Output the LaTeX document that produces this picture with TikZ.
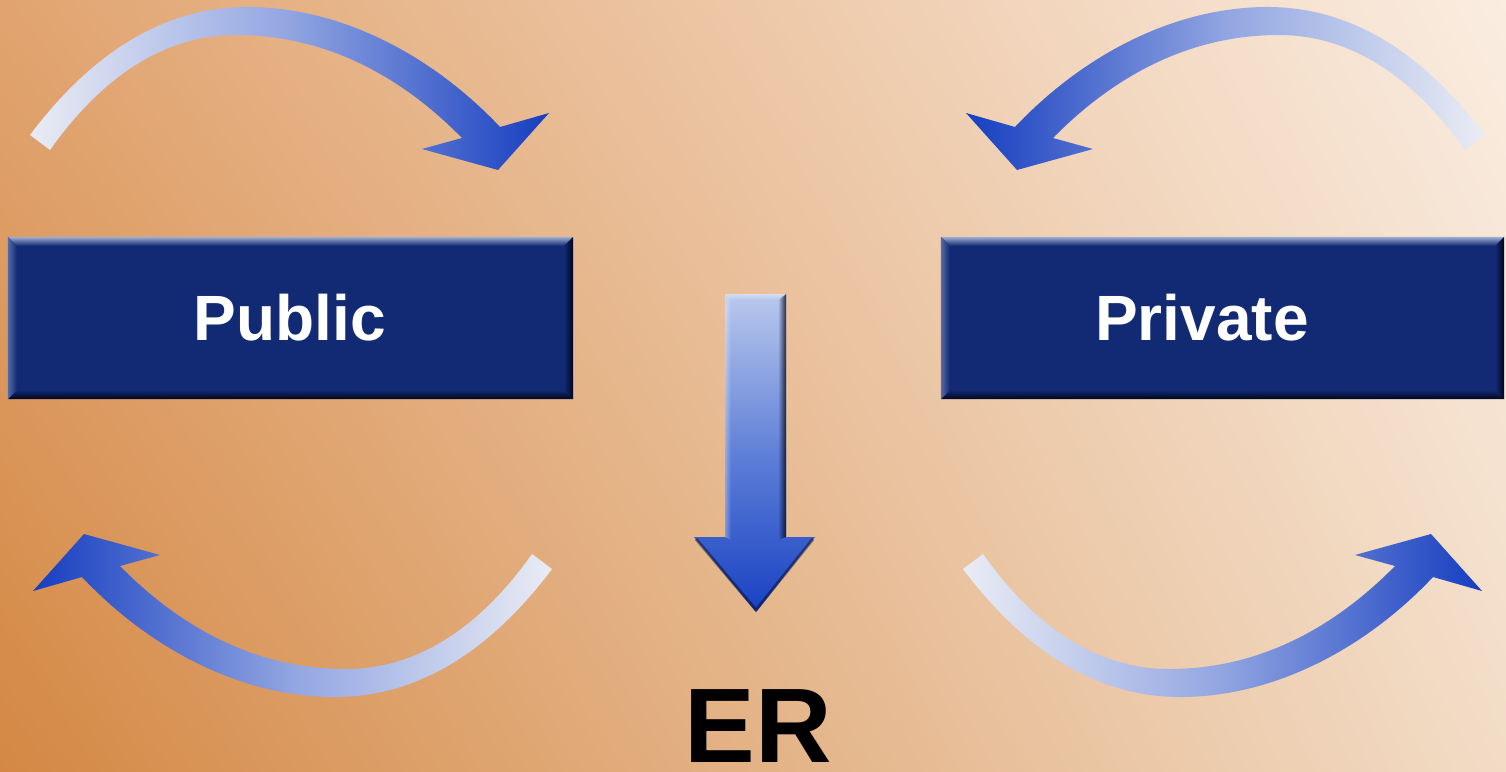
\documentclass[tikz,border=0pt]{standalone}
\usepackage{fontspec}
\setmainfont{Liberation Sans}
\usetikzlibrary{calc,fadings,shadings}
\definecolor{bgUL}{RGB}{225,164,112}
\definecolor{bgUR}{RGB}{250,237,225}
\definecolor{bgLL}{RGB}{212,136,68}
\definecolor{bgLR}{RGB}{242,220,198}
\definecolor{boxblue}{RGB}{18,42,115}
\definecolor{bevtop}{RGB}{160,175,210}
\definecolor{bevleft}{RGB}{85,108,168}
\definecolor{bevdark}{RGB}{0,4,25}
\definecolor{tailc}{RGB}{234,236,244}
\definecolor{midc}{RGB}{145,165,225}
\definecolor{headc}{RGB}{22,62,192}
\definecolor{datop}{RGB}{185,200,236}
\definecolor{damid}{RGB}{95,128,215}
\definecolor{dabot}{RGB}{25,65,195}
\newcommand{\bevelbox}[1]{%
  \shade[top color=bevtop, bottom color=boxblue] (#1.north west) -- (#1.north east) -- ($(#1.north east)+(-9,9)$) -- ($(#1.north west)+(9,9)$) -- cycle;
  \shade[bottom color=bevdark, top color=boxblue] (#1.south west) -- ($(#1.south west)+(9,-9)$) -- ($(#1.south east)+(-9,-9)$) -- (#1.south east) -- cycle;
  \shade[left color=bevleft, right color=boxblue] (#1.north west) -- ($(#1.north west)+(9,9)$) -- ($(#1.south west)+(9,-9)$) -- (#1.south west) -- cycle;
  \shade[right color=bevdark, left color=boxblue] (#1.north east) -- (#1.south east) -- ($(#1.south east)+(-9,-9)$) -- ($(#1.north east)+(-9,9)$) -- cycle;
}
\begin{document}
\begin{tikzpicture}[x=1pt,y=-1pt,
  navybox/.style={rectangle, fill=boxblue, minimum height=162pt, inner sep=0pt},
  boxlabel/.style={anchor=base, text=white, inner sep=0pt, font=\fontsize{64}{64}\selectfont\bfseries},
  bigtext/.style={anchor=base, text=black, inner sep=0pt, font=\fontsize{106}{106}\selectfont\bfseries},
  tailhead/.style={left color=tailc, right color=headc, middle color=midc},
  headtail/.style={left color=headc, right color=tailc, middle color=midc}]
\useasboundingbox (0,0) rectangle (1506,771);
\shade[upper left=bgUL, upper right=bgUR, lower left=bgLL, lower right=bgLR] (0,0) rectangle (1506,771);

% boxes
\node[navybox, minimum width=565pt] (pubbox) at (290.5,318) {};
\bevelbox{pubbox}
\node[boxlabel] (pub) at (290,340) {Public};
\node[navybox, minimum width=563pt] (privbox) at (1222.5,318) {};
\bevelbox{privbox}
\node[boxlabel] (priv) at (1202,340) {Private};

% curved arrows
\shade[tailhead] (30,135) .. controls (88,58) and (160,6) .. (250,7)
  .. controls (345,8) and (435,58) .. (500,127) -- (549,113) -- (498,170) -- (422,149) -- (462,138)
  .. controls (405,80) and (330,35) .. (236,35) .. controls (160,35) and (98,82) .. (50,150) -- cycle;
\shade[headtail] (1485,135) .. controls (1427,58) and (1355,6) .. (1265,7)
  .. controls (1170,8) and (1080,58) .. (1015,127) -- (966,113) -- (1017,170) -- (1093,149) -- (1053,138)
  .. controls (1110,80) and (1185,35) .. (1279,35) .. controls (1355,35) and (1417,82) .. (1465,150) -- cycle;
\shade[headtail] (552,569) .. controls (494,646) and (422,698) .. (332,697)
  .. controls (237,696) and (147,646) .. (82,577) -- (33,591) -- (84,534) -- (160,555) -- (120,566)
  .. controls (177,624) and (252,669) .. (346,669) .. controls (422,669) and (484,622) .. (532,554) -- cycle;
\shade[tailhead] (963,569) .. controls (1021,646) and (1093,698) .. (1183,697)
  .. controls (1278,696) and (1368,646) .. (1433,577) -- (1482,591) -- (1431,534) -- (1355,555) -- (1395,566)
  .. controls (1338,624) and (1263,669) .. (1169,669) .. controls (1093,669) and (1031,622) .. (983,554) -- cycle;

% down arrow
\shade[top color=datop, bottom color=dabot, middle color=damid]
  (725,294) -- (786,294) -- (786,537) -- (815,537) -- (756,612) -- (694,537) -- (725,537) -- cycle;
\fill[bevdark, path fading=west, fill opacity=0.8] (778,300) -- (786,294) -- (786,537) -- (778,540) -- cycle;
\fill[white, path fading=east, fill opacity=0.35] (725,294) -- (731,300) -- (731,540) -- (725,537) -- cycle;
\fill[white, path fading=south, fill opacity=0.4] (725,294) -- (786,294) -- (780,300) -- (731,300) -- cycle;
\draw[bevdark, line width=3pt, opacity=0.45, line join=round] (813,539) -- (756,610) -- (696,539);

\node[bigtext] (er) at (758,762) {ER};
\end{tikzpicture}
\end{document}
